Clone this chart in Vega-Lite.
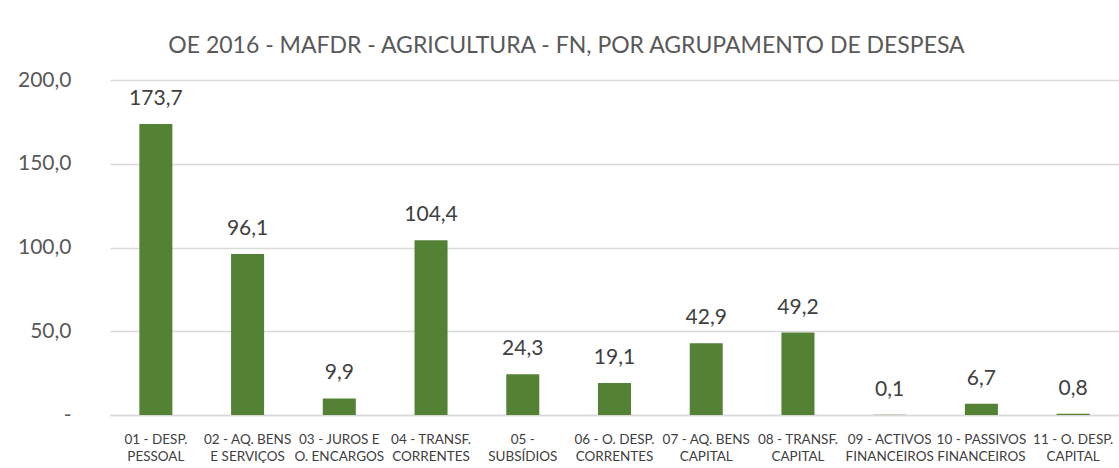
{
  "$schema": "https://vega.github.io/schema/vega-lite/v6.json",
  "autosize": "none",
  "width": 1009,
  "height": 335,
  "padding": {"left": 110, "top": 80, "right": 0, "bottom": 53},
  "background": "white",
  "config": {
    "locale": {"number": {"decimal": ",", "thousands": ".", "grouping": [3], "currency": ["", " €"]}},
    "view": {"stroke": null},
    "font": "Lato"
  },
  "title": {
    "text": "OE 2016 - MAFDR - AGRICULTURA - FN, POR AGRUPAMENTO DE DESPESA",
    "font": "Lato",
    "fontSize": 23,
    "fontWeight": "normal",
    "color": "#595959",
    "anchor": "middle",
    "dx": -48,
    "offset": 11
  },
  "data": {
    "values": [
      {"cat": "01 - DESP.|PESSOAL", "v": 173.7},
      {"cat": "02 - AQ. BENS|E SERVIÇOS", "v": 96.1},
      {"cat": "03 - JUROS E|O. ENCARGOS", "v": 9.9},
      {"cat": "04 - TRANSF.|CORRENTES", "v": 104.4},
      {"cat": "05 -|SUBSÍDIOS", "v": 24.3},
      {"cat": "06 - O. DESP.|CORRENTES", "v": 19.1},
      {"cat": "07 - AQ. BENS|CAPITAL", "v": 42.9},
      {"cat": "08 - TRANSF.|CAPITAL", "v": 49.2},
      {"cat": "09 - ACTIVOS|FINANCEIROS", "v": 0.1},
      {"cat": "10 - PASSIVOS|FINANCEIROS", "v": 6.7},
      {"cat": "11 - O. DESP.|CAPITAL", "v": 0.8}
    ]
  },
  "encoding": {
    "x": {
      "field": "cat",
      "type": "nominal",
      "sort": null,
      "scale": {"paddingInner": 0.64, "paddingOuter": 0.32},
      "axis": {
        "title": null,
        "labelAngle": 0,
        "labelExpr": "split(datum.label, '|')",
        "labelLimit": 0,
        "labelFont": "Lato",
        "labelFontSize": 13.5,
        "labelColor": "#404040",
        "labelPadding": 17,
        "labelLineHeight": 17,
        "ticks": false,
        "domainColor": "#d9d9d9",
        "domainWidth": 1.5
      }
    },
    "y": {
      "field": "v",
      "type": "quantitative",
      "scale": {"domain": [0, 200]},
      "axis": {
        "title": null,
        "values": [0, 50, 100, 150, 200],
        "format": ".1f",
        "labelExpr": "datum.value == 0 ? '-\u00a0\u00a0\u00a0\u00a0' : datum.label",
        "labelFont": "Lato",
        "labelFontSize": 21,
        "labelColor": "#595959",
        "labelPadding": 39,
        "ticks": false,
        "domain": false,
        "gridColor": "#d9d9d9",
        "gridWidth": 1.5
      }
    }
  },
  "layer": [
    {"mark": {"type": "bar", "color": "#548235"}},
    {
      "mark": {"type": "text", "baseline": "bottom", "dy": -15, "fontSize": 21, "color": "#404040", "font": "Lato"},
      "encoding": {"text": {"field": "v", "type": "quantitative", "format": ".1f"}}
    }
  ]
}
